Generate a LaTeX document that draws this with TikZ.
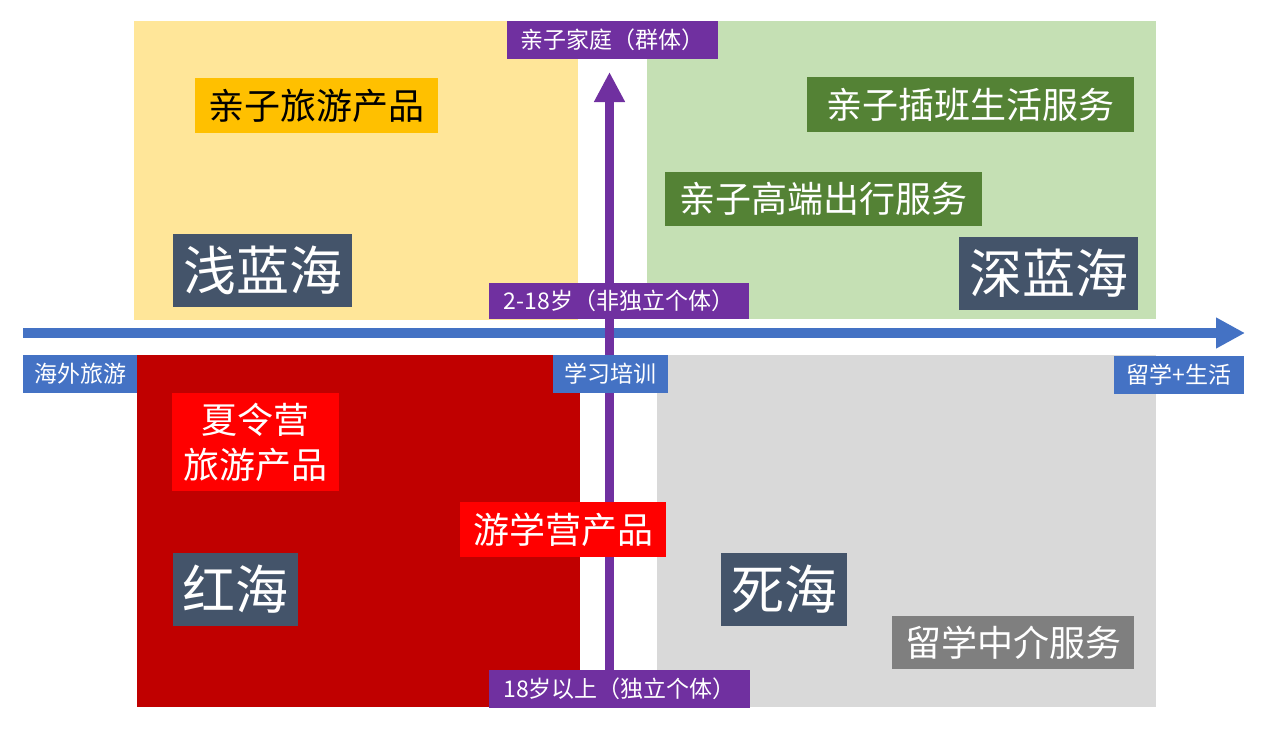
\documentclass[tikz,border=0pt]{standalone}
\usepackage{fontspec}
\setmainfont{Noto Sans CJK SC}
\usetikzlibrary{arrows.meta}
\definecolor{qyellow}{HTML}{FFE699}
\definecolor{qgreen}{HTML}{C5E0B4}
\definecolor{qred}{HTML}{C00000}
\definecolor{qgray}{HTML}{D9D9D9}
\definecolor{axblue}{HTML}{4472C4}
\definecolor{axpurple}{HTML}{7030A0}
\definecolor{slate}{HTML}{44546A}
\definecolor{orangebox}{HTML}{FFC000}
\definecolor{greenbox}{HTML}{548235}
\definecolor{redbox}{HTML}{FF0000}
\definecolor{graybox}{HTML}{7F7F7F}
\tikzset{
  box/.style={inner sep=0pt, outer sep=0pt, text=white, align=center},
  small/.style={box, font=\fontsize{23}{27}\selectfont},
  mid/.style={box, font=\fontsize{36}{45}\selectfont},
  big/.style={box, font=\fontsize{53}{60}\selectfont, fill=slate},
}
\begin{document}
\begin{tikzpicture}[x=1pt,y=-1pt]
\useasboundingbox (0,0) rectangle (1268,739);
% quadrants
\fill[qyellow] (134,21) rectangle (578,320);
\fill[qgreen] (647,21) rectangle (1156,319);
\fill[qred] (137,355) rectangle (580,707);
\fill[qgray] (657,355) rectangle (1156,707);
% axes
\coordinate (hstart) at (23,333);
\coordinate (hend) at (1245,333);
\coordinate (vstart) at (609.5,690);
\coordinate (vend) at (609.5,72);
\draw[axblue, line width=10pt, -{Triangle[width=29pt,length=29pt]}] (hstart) -- (hend);
\draw[axpurple, line width=9pt, -{Triangle[width=29pt,length=30pt]}] (vstart) -- (vend);
% axis labels
\node[small, fill=axpurple, minimum width=211pt, minimum height=38pt] (top) at (612.5,40) {亲子家庭（群体）};
\node[small, fill=axpurple, minimum width=260pt, minimum height=36pt] (age1) at (619,301) {2-18岁（非独立个体）};
\node[small, fill=axblue, minimum width=115pt, minimum height=38pt] (study) at (610.5,374) {学习培训};
\node[small, fill=axblue, minimum width=114pt, minimum height=38pt] (travel) at (80,374) {海外旅游};
\node[small, fill=axblue, minimum width=130pt, minimum height=38pt] (abroad) at (1179,375) {留学+生活};
\node[small, fill=axpurple, minimum width=261pt, minimum height=38pt] (age2) at (619.5,689) {18岁以上（独立个体）};
% content boxes
\node[mid, fill=orangebox, text=black, minimum width=243pt, minimum height=55pt] (p1) at (316.5,105.5) {亲子旅游产品};
\node[mid, fill=greenbox, minimum width=327pt, minimum height=55pt] (p2) at (970.5,104.5) {亲子插班生活服务};
\node[mid, fill=greenbox, minimum width=317pt, minimum height=54pt] (p3) at (823.5,199) {亲子高端出行服务};
\node[mid, fill=redbox, minimum width=167pt, minimum height=98pt] (p4) at (255.5,442) {夏令营\\旅游产品};
\node[mid, fill=redbox, minimum width=206pt, minimum height=55pt] (p5) at (563,529.5) {游学营产品};
\node[mid, fill=graybox, minimum width=242pt, minimum height=53pt] (p6) at (1013,642.5) {留学中介服务};
% sea labels
\node[big, minimum width=179pt, minimum height=73pt] (s1) at (262.5,270.5) {浅蓝海};
\node[big, minimum width=179pt, minimum height=73pt] (s2) at (1048.5,273.5) {深蓝海};
\node[big, minimum width=125pt, minimum height=73pt] (s3) at (235.5,589.5) {红海};
\node[big, minimum width=126pt, minimum height=73pt] (s4) at (784,589.5) {死海};
\end{tikzpicture}
\end{document}
